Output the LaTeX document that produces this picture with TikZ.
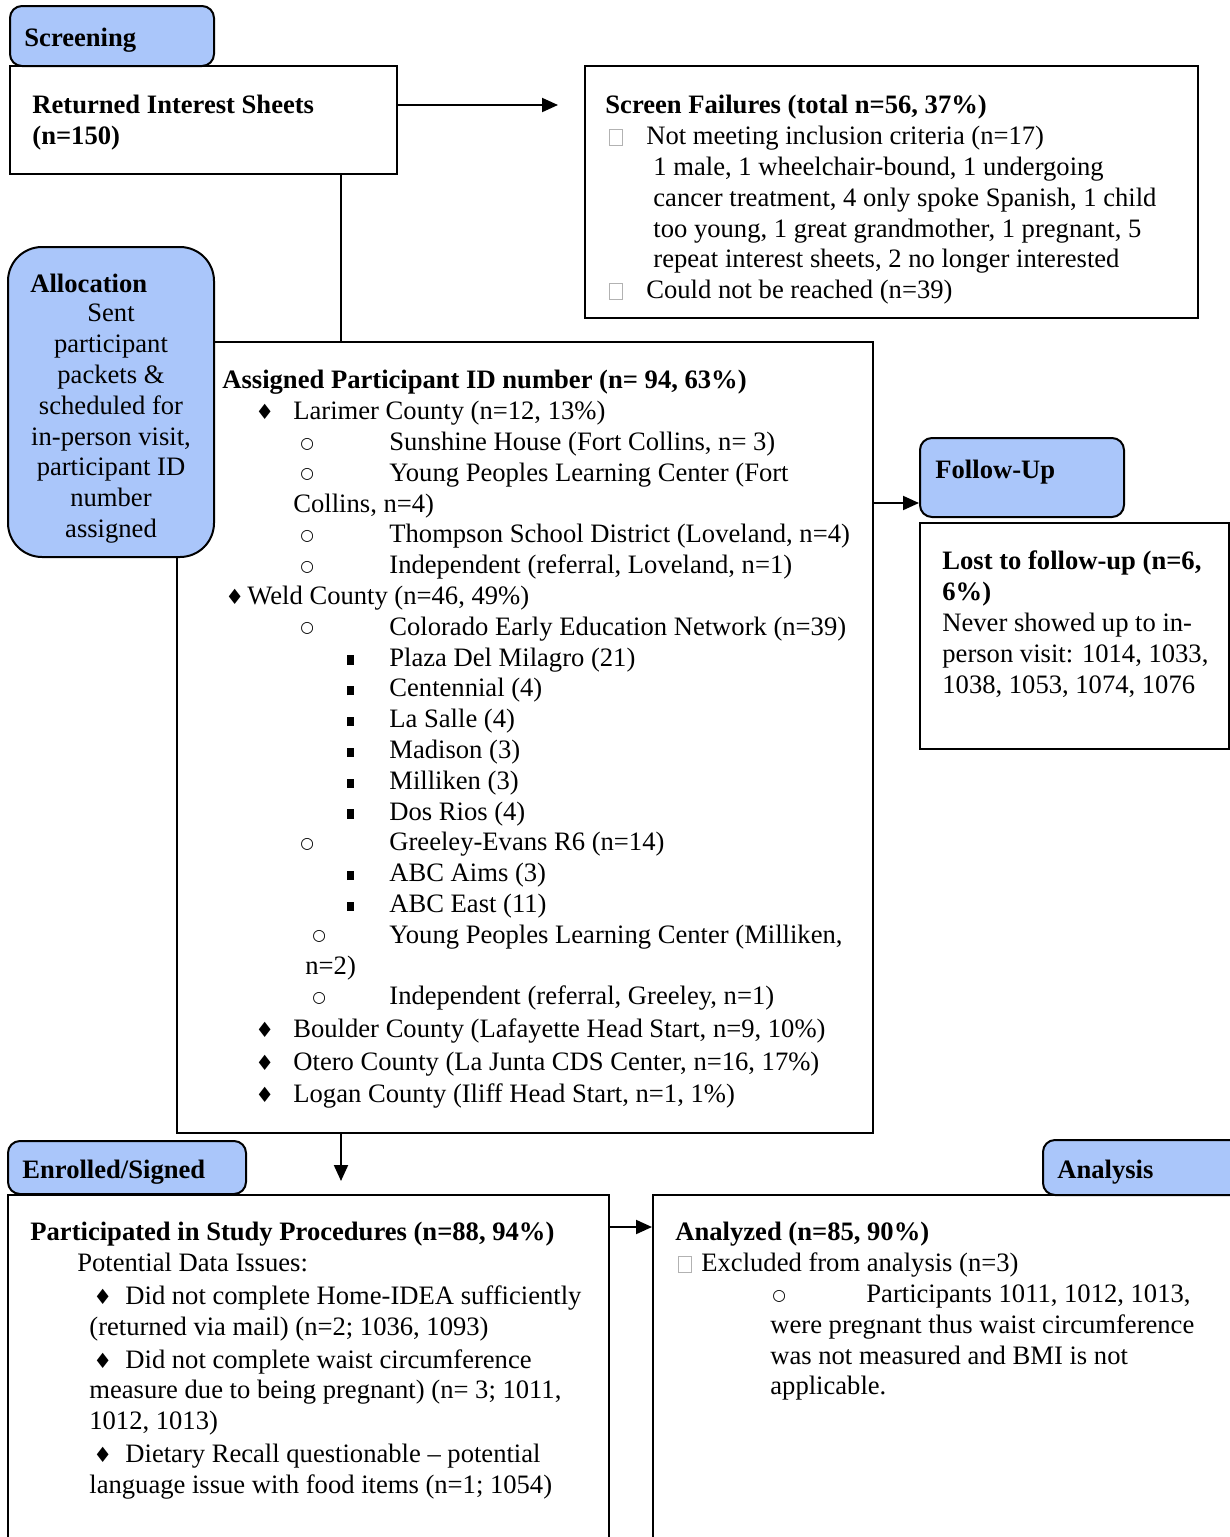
\documentclass[tikz,border=0pt]{standalone}
\usepackage{fontspec}
\setmainfont{Liberation Serif}
\newfontfamily\symfont{DejaVu Sans}
\usetikzlibrary{fit,arrows.meta}
\definecolor{tab_blue}{RGB}{170,198,250}
\newcommand{\fsz}{\fontsize{13.3}{15.4}\selectfont}
\newcommand{\pxu}{0.5pt}
\newcommand{\dia}{{\symfont\fontsize{10.5}{10.5}\selectfont\char"2666}}
\newcommand{\obul}{\raisebox{1.2pt}{\symfont\fontsize{7.8}{7.8}\selectfont\char"25CB}}
\newcommand{\sbul}{\rule[0.8pt]{3.2pt}{4.6pt}}
\newcommand{\tofu}{{\color{black!30}\setlength{\fboxsep}{0pt}\setlength{\fboxrule}{0.5pt}\fbox{\rule{0pt}{7.5pt}\hspace{6pt}}}}
\newcommand{\ind}[1]{\hspace*{\dimexpr\pxu*#1\relax}}
\newcommand{\li}[4]{\ind{#1}\makebox[\dimexpr\pxu*(#3-#1)\relax][l]{#2}#4}
\tikzstyle{frame}=[draw=black,line width=1pt,inner sep=0pt]
\tikzstyle{tab}=[draw=black,line width=1pt,fill=tab_blue,rounded corners=6pt,inner sep=0pt]
\tikzstyle{bigtab}=[tab,rounded corners=17pt]
\tikzstyle{txt}=[anchor=north west,yshift=10pt,inner sep=0pt,align=left,font=\fsz]
\tikzstyle{arr}=[line width=1pt,-{Triangle[length=8pt,width=7pt]}]
\begin{document}
\begin{tikzpicture}[x=0.5pt,y=-0.5pt]
    \clip (0,0) rectangle (1230,1537);
    \node [frame,fit={(10,66) (397,174)}] (ret) {};
    \node [frame,fit={(585,66) (1198,318)}] (fail) {};
    \node [frame,fit={(177,342) (873,1133)}] (assign) {};
    \node [frame,fit={(920,523) (1229,749)}] (lost) {};
    \node [frame,fit={(8,1195) (609,1560)}] (part) {};
    \node [frame,fit={(653,1195) (1250,1560)}] (anal) {};
    \node [tab,fit={(10,6) (214,66)}] (scrtab) {};
    \node [bigtab,fit={(8,247) (214,557)}] (alltab) {};
    \node [tab,fit={(920,438) (1124,517)}] (futab) {};
    \node [tab,fit={(8,1141) (246,1194)}] (enrtab) {};
    \node [tab,fit={(1043,1140) (1250,1195)}] (antab) {};
    \coordinate (a1) at (558,105);
    \coordinate (t1) at (341,0);
    \coordinate (a3) at (0,503);
    \coordinate (a4) at (341,1181);
    \coordinate (a5) at (0,1227);
    \draw [arr] (ret.east |- a1) -- (a1);
    \draw [line width=1pt] (ret.south -| t1) -- (assign.north -| t1);
    \draw [arr] (assign.east |- a3) -- (futab.west |- a3);
    \draw [arr] (assign.south -| t1) -- (a4);
    \draw [arr] (part.east |- a5) -- (anal.west |- a5);
    \node [txt] (scrtxt) at (24,45) {\strut\textbf{Screening}};
    \node [txt] (alltxt) at (30,291) {\strut\textbf{Allocation}};
    \node [txt] (futxt) at (935,477) {\strut\textbf{Follow-Up}};
    \node [txt] (enrtxt) at (22,1177) {\strut\textbf{Enrolled/Signed}};
    \node [txt] (antxt) at (1057,1177) {\strut\textbf{Analysis}};
    \node [txt] (rettxt) at (32,112) {\strut\textbf{Returned Interest Sheets}\\\textbf{(n=150)}};
    \node [txt] (failtxt) at (605,112) {\strut\textbf{Screen Failures (total n=56, 37\%)}\\
        \li{4}{\tofu}{41}{Not meeting inclusion criteria (n=17)}\\
        \ind{48}1 male, 1 wheelchair-bound, 1 undergoing\\
        \ind{48}cancer treatment, 4 only spoke Spanish, 1 child\\
        \ind{48}too young, 1 great grandmother, 1 pregnant, 5\\
        \ind{48}repeat interest sheets, 2 no longer interested\\
        \li{4}{\tofu}{41}{Could not be reached (n=39)}};
    \node [txt,anchor=north,align=center] (allsub) at (111,320) {\strut Sent\\participant\\packets \&\\scheduled for\\in-person visit,\\participant ID\\number\\assigned};
    \node [txt] (assigntxt) at (222,387) {\strut\textbf{Assigned Participant ID number (n= 94, 63\%)}\\
        \li{33}{\dia}{71}{Larimer County (n=12, 13\%)}\\
        \li{78}{\obul}{167}{Sunshine House (Fort Collins, n= 3)}\\
        \li{78}{\obul}{167}{Young Peoples Learning Center (Fort}\\
        \ind{71}Collins, n=4)\\
        \li{78}{\obul}{167}{Thompson School District (Loveland, n=4)}\\
        \li{78}{\obul}{167}{Independent (referral, Loveland, n=1)}\\
        \li{3}{\dia}{25}{Weld County (n=46, 49\%)}\\
        \li{78}{\obul}{167}{Colorado Early Education Network (n=39)}\\
        \li{125}{\sbul}{167}{Plaza Del Milagro (21)}\\
        \li{125}{\sbul}{167}{Centennial (4)}\\
        \li{125}{\sbul}{167}{La Salle (4)}\\
        \li{125}{\sbul}{167}{Madison (3)}\\
        \li{125}{\sbul}{167}{Milliken (3)}\\
        \li{125}{\sbul}{167}{Dos Rios (4)}\\
        \li{78}{\obul}{167}{Greeley-Evans R6 (n=14)}\\
        \li{125}{\sbul}{167}{ABC Aims (3)}\\
        \li{125}{\sbul}{167}{ABC East (11)}\\
        \li{90}{\obul}{167}{Young Peoples Learning Center (Milliken,}\\
        \ind{83}n=2)\\
        \li{90}{\obul}{167}{Independent (referral, Greeley, n=1)}\\[0.9pt]
        \li{33}{\dia}{71}{Boulder County (Lafayette Head Start, n=9, 10\%)}\\[0.9pt]
        \li{33}{\dia}{71}{Otero County (La Junta CDS Center, n=16, 17\%)}\\[0.9pt]
        \li{33}{\dia}{71}{Logan County (Iliff Head Start, n=1, 1\%)}};
    \node [txt] (losttxt) at (942,568) {\strut\textbf{Lost to follow-up (n=6,}\\\textbf{6\%)}\\Never showed up to in-\\person visit: 1014, 1033,\\1038, 1053, 1074, 1076};
    \node [txt] (parttxt) at (30,1239) {\strut\textbf{Participated in Study Procedures (n=88, 94\%)}\\
        \ind{47}Potential Data Issues:\\[1pt]
        \li{63}{\dia}{95}{Did not complete Home-IDEA sufficiently}\\
        \ind{59}(returned via mail) (n=2; 1036, 1093)\\[1pt]
        \li{63}{\dia}{95}{Did not complete waist circumference}\\
        \ind{59}measure due to being pregnant) (n= 3; 1011,\\
        \ind{59}1012, 1013)\\[1pt]
        \li{63}{\dia}{95}{Dietary Recall questionable -- potential}\\
        \ind{59}language issue with food items (n=1; 1054)};
    \node [txt] (antxt2) at (675,1239) {\strut\textbf{Analyzed (n=85, 90\%)}\\
        \li{3}{\tofu}{26}{Excluded from analysis (n=3)}\\
        \li{97}{\obul}{191}{Participants 1011, 1012, 1013,}\\
        \ind{95}were pregnant thus waist circumference\\
        \ind{95}was not measured and BMI is not\\
        \ind{95}applicable.};
\end{tikzpicture}
\end{document}
